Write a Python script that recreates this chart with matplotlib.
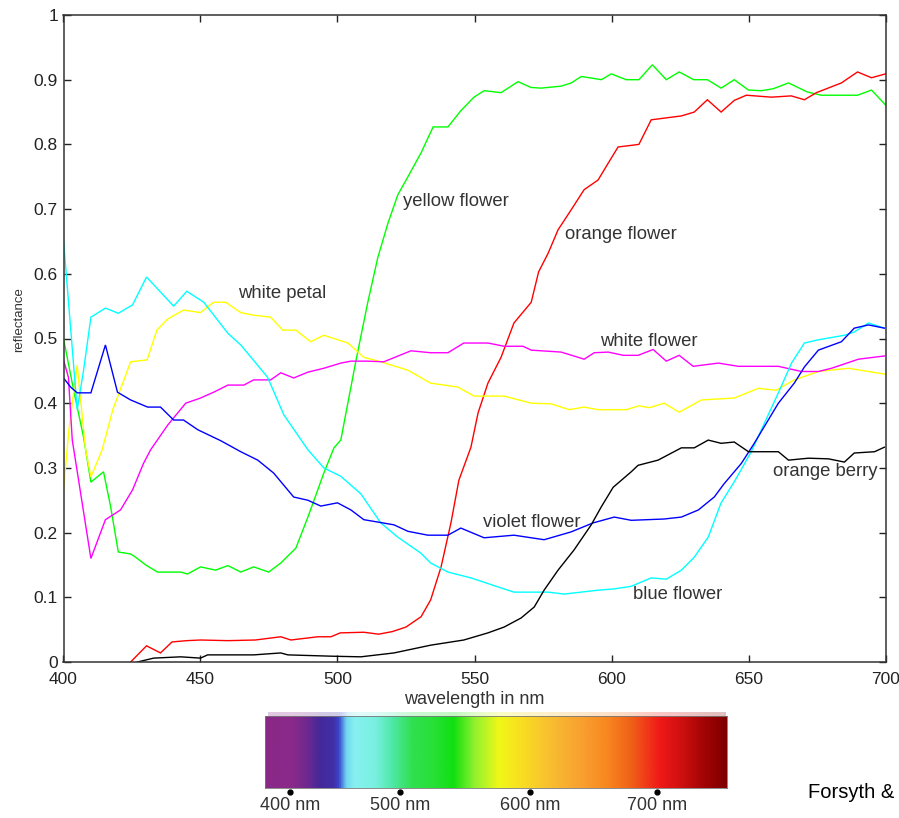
import numpy as np
import matplotlib
matplotlib.use('Agg')
import matplotlib.pyplot as plt
from matplotlib.colors import LinearSegmentedColormap

plt.rcParams['font.family'] = ['Liberation Sans', 'DejaVu Sans']

# ---------------- data ----------------
yellow_flower_wl = [400, 403.7, 407.3, 410, 414.6, 417.2, 420, 424.5, 426.3, 430, 434.3, 442.8, 445.3,
                    450, 455.5, 460, 464.7, 469.4, 474.9, 479.3, 484.8, 489.2, 492.8, 495, 498.7, 501.2,
                    506.7, 511, 514.7, 518.4, 522, 525.7, 530.5, 534.9, 540.3, 545, 549.8, 553.5, 559.7,
                    565.9, 570.6, 574.3, 581.6, 585.3, 589, 596.3, 599.9, 605.4, 610, 614.9, 620, 624.7,
                    630, 635, 640, 644.8, 650, 654.7, 659, 664.6, 671.5, 676.6, 689.8, 694.9, 700]
yellow_flower_r = [0.50, 0.42, 0.348, 0.278, 0.294, 0.24, 0.17, 0.167, 0.162, 0.15, 0.139, 0.139, 0.136,
                   0.147, 0.142, 0.149, 0.139, 0.147, 0.139, 0.153, 0.176, 0.224, 0.266, 0.292, 0.331, 0.343,
                   0.465, 0.555, 0.625, 0.678, 0.722, 0.75, 0.787, 0.827, 0.827, 0.852, 0.873, 0.883, 0.88,
                   0.897, 0.888, 0.887, 0.89, 0.895, 0.905, 0.90, 0.909, 0.90, 0.90, 0.923, 0.90, 0.912,
                   0.90, 0.90, 0.887, 0.90, 0.884, 0.883, 0.886, 0.895, 0.881, 0.876, 0.876, 0.884, 0.861]

orange_flower_wl = [424.5, 430.3, 435.4, 439.6, 445, 450, 460, 470, 479.3, 483, 492.8, 497.6, 501, 509.6,
                    515, 520, 525, 530.5, 534, 537.8, 541.4, 544.3, 548.7, 551.3, 554.9, 559.7, 564.4,
                    570.7, 573.4, 576.9, 580.5, 585.3, 590, 595.1, 598.8, 602.4, 610, 614.5, 625.5, 630.2,
                    635, 640, 644.8, 649.2, 658.4, 665.6, 670.4, 674.8, 683.9, 689.8, 694.9, 700]
orange_flower_r = [0.0, 0.025, 0.014, 0.031, 0.033, 0.034, 0.033, 0.034, 0.039, 0.034, 0.039, 0.039, 0.045,
                   0.046, 0.043, 0.047, 0.054, 0.07, 0.096, 0.147, 0.215, 0.281, 0.332, 0.385, 0.431, 0.471,
                   0.524, 0.556, 0.603, 0.632, 0.668, 0.699, 0.73, 0.745, 0.771, 0.796, 0.80, 0.838, 0.844,
                   0.85, 0.869, 0.85, 0.868, 0.876, 0.873, 0.875, 0.869, 0.88, 0.895, 0.912, 0.903, 0.909]

white_petal_wl = [400, 402, 405, 408, 410, 414.1, 418, 424.5, 430.5, 434.1, 438, 443.8, 450, 454.8, 459.2,
                  464.7, 469.4, 475.6, 480, 484.8, 490.2, 495, 503.8, 509.6, 515.8, 525.7, 534, 543.9,
                  549.8, 560.8, 570.7, 578, 584.6, 590, 595.1, 605.4, 610, 613.8, 619.2, 624.7, 632.8,
                  644.8, 653.6, 660, 666.7, 675.5, 686.5, 699.6]
white_petal_r = [0.266, 0.36, 0.459, 0.33, 0.286, 0.328, 0.39, 0.464, 0.467, 0.513, 0.53, 0.544, 0.54,
                 0.556, 0.556, 0.54, 0.536, 0.533, 0.513, 0.513, 0.495, 0.505, 0.493, 0.471, 0.464, 0.451,
                 0.431, 0.425, 0.411, 0.411, 0.40, 0.399, 0.39, 0.394, 0.39, 0.39, 0.396, 0.393, 0.40,
                 0.386, 0.405, 0.408, 0.423, 0.42, 0.436, 0.449, 0.454, 0.445]

white_flower_wl = [400, 401.8, 403.2, 410, 415.3, 420.8, 425.2, 429.2, 431.8, 438, 444.6, 450, 454.8, 460,
                   465.8, 469.4, 475.6, 479.3, 484, 489.2, 495, 501.2, 504.9, 511, 516.9, 526.8, 534,
                   540.3, 546.1, 554.9, 560.8, 567.7, 570.7, 581.6, 587.8, 590, 593.7, 598.8, 604.3, 609.7,
                   615.2, 620, 624.7, 629.8, 639, 646.3, 660.9, 669.3, 675.5, 680.3, 690.1, 699.6]
white_flower_r = [0.467, 0.44, 0.343, 0.16, 0.22, 0.235, 0.266, 0.307, 0.328, 0.366, 0.40, 0.408, 0.417,
                  0.428, 0.428, 0.436, 0.436, 0.447, 0.439, 0.448, 0.454, 0.462, 0.465, 0.465, 0.464, 0.481,
                  0.478, 0.478, 0.493, 0.493, 0.488, 0.488, 0.482, 0.479, 0.471, 0.468, 0.478, 0.479, 0.474,
                  0.474, 0.483, 0.465, 0.474, 0.457, 0.462, 0.457, 0.457, 0.449, 0.449, 0.454, 0.468, 0.473]

blue_flower_wl = [400, 405, 407.3, 410, 415.3, 420, 425.2, 430.3, 440.2, 445, 451.2, 460, 464.7, 474.5,
                  480.4, 489.2, 495, 501.2, 508.5, 515.8, 522, 530.5, 534, 540.3, 548.7, 558.6, 564.4,
                  576.8, 582.7, 595.1, 601, 607.2, 614.5, 620, 625.5, 630.2, 635.3, 640, 645, 651, 660.9,
                  665.7, 670.4, 675.5, 685, 688.6, 693.8, 699.6]
blue_flower_r = [0.652, 0.39, 0.45, 0.533, 0.547, 0.539, 0.552, 0.595, 0.55, 0.573, 0.556, 0.508, 0.49,
                 0.44, 0.382, 0.328, 0.30, 0.287, 0.26, 0.215, 0.193, 0.168, 0.153, 0.139, 0.13, 0.116,
                 0.108, 0.108, 0.105, 0.111, 0.113, 0.117, 0.13, 0.128, 0.142, 0.162, 0.193, 0.246, 0.28,
                 0.325, 0.416, 0.462, 0.493, 0.498, 0.505, 0.51, 0.524, 0.516]

violet_flower_wl = [400, 402.6, 405, 410, 415.3, 419.7, 424.5, 430.7, 435.4, 440.2, 443.8, 449, 457.4,
                    464.7, 470.9, 476.7, 484, 489.2, 493.9, 500, 504.9, 509.6, 520.6, 525.7, 533, 540.3,
                    545, 553.5, 564.4, 575.4, 585.2, 593.3, 601, 607.2, 619.2, 625.5, 631.7, 637.5, 641,
                    647.4, 652.1, 660.9, 666.7, 670.4, 675.5, 683.9, 688.6, 693.8, 699.6]
violet_flower_r = [0.439, 0.425, 0.416, 0.416, 0.49, 0.417, 0.405, 0.394, 0.394, 0.374, 0.374, 0.359,
                   0.342, 0.325, 0.312, 0.292, 0.255, 0.25, 0.241, 0.246, 0.235, 0.22, 0.212, 0.202, 0.196,
                   0.196, 0.207, 0.192, 0.196, 0.189, 0.201, 0.215, 0.224, 0.219, 0.221, 0.224, 0.235,
                   0.255, 0.275, 0.307, 0.338, 0.40, 0.431, 0.456, 0.482, 0.495, 0.516, 0.521, 0.516]

orange_berry_wl = [427, 432.9, 442.8, 450, 452.6, 469.4, 479.3, 481.9, 497.6, 508.5, 520.6, 534, 546.1,
                   554.9, 560.8, 567, 571.8, 575.4, 580.5, 586.3, 592.6, 596.3, 600.6, 607.2, 609.7, 617,
                   625.5, 630.2, 635.3, 640, 644.8, 650, 660.9, 664.6, 671.9, 679.2, 685, 688.6, 696, 699.6]
orange_berry_r = [0.0, 0.006, 0.008, 0.006, 0.011, 0.011, 0.014, 0.011, 0.009, 0.008, 0.014, 0.026, 0.034,
                  0.045, 0.054, 0.068, 0.085, 0.111, 0.142, 0.173, 0.212, 0.24, 0.27, 0.294, 0.304, 0.312,
                  0.331, 0.331, 0.343, 0.338, 0.34, 0.325, 0.325, 0.312, 0.315, 0.314, 0.309, 0.323, 0.325,
                  0.332]

series_names = ['yellow flower', 'orange flower', 'white petal', 'white flower',
                'blue flower', 'violet flower', 'orange berry']
series_colors = ['#00ff00', '#ff0000', '#ffff00', '#ff00ff', '#00ffff', '#0000ff', '#000000']
series_wl = [yellow_flower_wl, orange_flower_wl, white_petal_wl, white_flower_wl,
             blue_flower_wl, violet_flower_wl, orange_berry_wl]
series_r = [yellow_flower_r, orange_flower_r, white_petal_r, white_flower_r,
            blue_flower_r, violet_flower_r, orange_berry_r]

# label anchor positions (wavelength, reflectance)
label_wl = [523.9, 583.0, 463.7, 595.8, 607.9, 553.0, 659.0]
label_r = [0.712, 0.660, 0.570, 0.496, 0.105, 0.216, 0.295]

x_ticks = [400, 450, 500, 550, 600, 650, 700]
y_ticks = [0, 0.1, 0.2, 0.3, 0.4, 0.5, 0.6, 0.7, 0.8, 0.9, 1]
y_tick_labels = ['0', '0.1', '0.2', '0.3', '0.4', '0.5', '0.6', '0.7', '0.8', '0.9', '1']

spectrum_stops = [0, 0.058, 0.094, 0.117, 0.148, 0.159, 0.175, 0.193, 0.238, 0.274, 0.318, 0.363,
                  0.408, 0.453, 0.507, 0.552, 0.614, 0.686, 0.740, 0.794, 0.857, 0.901, 0.955, 1.0]
spectrum_colors = ['#8a2888', '#8a2a8a', '#6a2890', '#44289a', '#4030a8', '#3848d0', '#70d8f0',
                   '#88f0f0', '#78f0e0', '#50e8a8', '#30e050', '#28e038', '#10e010', '#90f030',
                   '#f0f818', '#f8e020', '#f8c030', '#f8a030', '#f88820', '#f06018', '#f01818',
                   '#d01010', '#a00404', '#800000']
spectrum_labels = ['400 nm', '500 nm', '600 nm', '700 nm']
spectrum_label_pos = [0.054, 0.292, 0.574, 0.848]

# ---------------- figure ----------------
W, H = 899, 818
fig = plt.figure(figsize=(W / 100, H / 100), dpi=100)
fig.patch.set_facecolor('white')

ax = fig.add_axes([63.5 / W, 156 / H, 822 / W, 647 / H])
for wl, r, c in zip(series_wl, series_r, series_colors):
    ax.plot(wl, r, color=c, lw=1.0, solid_joinstyle='miter')

for name, lx, ly in zip(series_names, label_wl, label_r):
    ax.text(lx, ly, name, ha='left', va='center', fontsize=13.3, color='#333333')

ax.set_xlim(400, 700)
ax.set_ylim(0, 1)
ax.set_xticks(x_ticks)
ax.set_yticks(y_ticks)
ax.set_yticklabels(y_tick_labels)
ax.tick_params(direction='in', top=True, right=True, length=5, width=1.0,
               labelsize=12.5, colors='#222222')
ax.tick_params(axis='y', pad=4)
ax.tick_params(axis='x', pad=7)
for s in ax.spines.values():
    s.set_linewidth(1.1)
    s.set_color('#333333')

ax.set_xlabel('wavelength in nm', fontsize=13, color='#333333', va='center')
ax.xaxis.set_label_coords(0.5, -38 / 647)
ax.set_ylabel('reflectance', fontsize=9.5, color='#333333', va='center', ha='center')
ax.yaxis.set_label_coords(-44.5 / 822, (662 - 320) / 647)

# ---------------- spectrum bar ----------------
cmap = LinearSegmentedColormap.from_list('spec', list(zip(spectrum_stops, spectrum_colors)))
grad = np.linspace(0, 1, 512)[None, :]

ax_top = fig.add_axes([268 / W, (H - 716) / H, 458 / W, 4 / H])
ax_top.imshow(grad, cmap=cmap, aspect='auto', extent=[0, 1, 0, 1], alpha=0.25)
ax_top.axis('off')

ax2 = fig.add_axes([265 / W, (H - 788) / H, 462 / W, 72 / H])
ax2.imshow(grad, cmap=cmap, aspect='auto', extent=[0, 1, 0, 1])
ax2.set_xlim(0, 1)
ax2.set_ylim(0, 1)
ax2.set_xticks([])
ax2.set_yticks([])
for s in ax2.spines.values():
    s.set_linewidth(0.6)
    s.set_color('#777777')
ax2.plot(spectrum_label_pos, [-0.05] * len(spectrum_label_pos), 'o', ms=3.5,
         color='black', clip_on=False)
for pos, lab in zip(spectrum_label_pos, spectrum_labels):
    ax2.text(pos, -0.25, lab, ha='center', va='center', fontsize=13,
             color='#333333', transform=ax2.transAxes)

fig.text(808 / W, 1 - 793 / H, 'Forsyth &', ha='left', va='center', fontsize=14.5, color='black')

fig.savefig('out.png', dpi=100)
